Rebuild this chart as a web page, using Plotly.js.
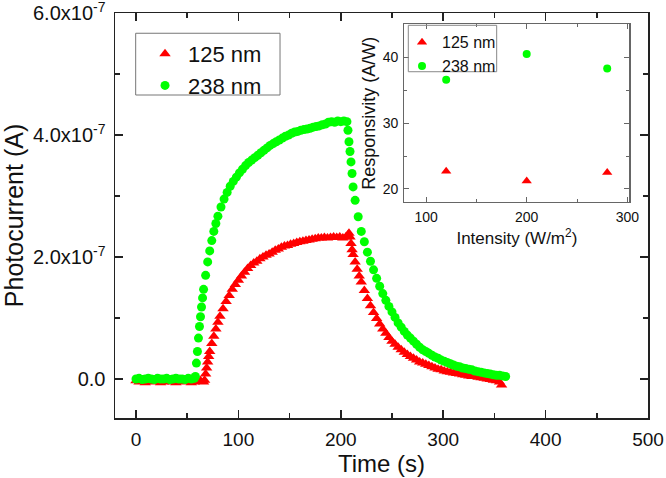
<!DOCTYPE html>
<html><head><meta charset="utf-8">
<script src="https://cdn.plot.ly/plotly-3.0.1.min.js"></script>
<style>html,body{margin:0;padding:0;background:#fff}#chart{width:666px;height:478px}</style>
</head><body><div id="chart"></div>
<script>
// Main chart: time (s) and photocurrent (units of 1e-7 A)
const redTime = [0,3,6,9,12,15,18,21,24,27,30,33,36,39,42,45,48,51,54,57,60,63,66,
  67,68,69,70,71,72,74,76,78,80,82,
  85,88,91,94,97,100,103,106,109,112,115,118,121,124,127,130,133,136,139,142,145,148,151,154,157,160,163,166,169,172,175,178,181,184,187,190,193,196,199,202,205,
  207,208,209,210,211,212,214,216,218,220,
  223,226,229,232,235,238,241,244,247,250,253,256,259,262,265,268,271,274,277,280,283,286,289,292,295,298,301,304,307,310,313,316,319,322,325,328,331,334,337,340,343,346,349,352,355,
  357];
const redCurrent = [-0.03,-0.05,-0.04,-0.06,-0.04,-0.03,-0.05,-0.04,-0.06,-0.05,-0.03,-0.04,-0.05,-0.06,-0.04,-0.03,-0.05,-0.04,-0.06,-0.05,-0.04,-0.03,-0.05,
  -0.02,0.08,0.18,0.28,0.37,0.45,0.58,0.70,0.82,0.93,1.03,
  1.15,1.27,1.37,1.47,1.55,1.62,1.69,1.75,1.81,1.86,1.90,1.93,1.97,2.00,2.03,2.05,2.08,2.11,2.13,2.16,2.18,2.19,2.21,2.22,2.24,2.25,2.26,2.27,2.28,2.29,2.30,2.31,2.31,2.32,2.31,2.32,2.33,2.32,2.33,2.31,2.33,
  2.36,2.39,2.33,2.22,2.12,2.04,1.92,1.80,1.69,1.59,
  1.45,1.32,1.20,1.09,0.99,0.90,0.82,0.75,0.68,0.62,0.57,0.52,0.48,0.44,0.40,0.37,0.34,0.31,0.28,0.26,0.24,0.22,0.20,0.18,0.16,0.15,0.13,0.12,0.11,0.10,0.09,0.08,0.07,0.06,0.05,0.04,0.04,0.03,0.02,0.01,0.00,-0.01,-0.02,-0.03,-0.05,
  -0.10];

const greenTime = [0,3,6,9,12,15,18,21,24,27,30,33,36,39,42,45,48,51,54,57,
  58,59,60,61,62,63,64,65,66,68,70,72,74,76,78,80,
  83,86,89,92,95,98,101,104,107,110,113,116,119,122,125,128,131,134,137,140,143,146,149,152,155,158,161,164,167,170,173,176,179,182,185,188,191,194,197,200,203,206,
  207,208,209,210,211,212,214,
  217,220,223,226,229,232,235,238,241,244,247,250,253,256,259,262,265,268,271,274,277,280,283,286,289,292,295,298,301,304,307,310,313,316,319,322,325,328,331,334,337,340,343,346,349,352,355,358,361];
const greenCurrent = [0.00,0.01,-0.01,0.00,0.01,0.00,-0.01,0.01,0.00,0.00,0.01,-0.01,0.00,0.01,0.00,0.00,-0.01,0.01,0.00,0.01,
  0.04,0.26,0.45,0.67,0.86,1.02,1.18,1.33,1.47,1.70,1.92,2.10,2.27,2.42,2.55,2.67,
  2.82,2.95,3.06,3.16,3.24,3.31,3.38,3.44,3.50,3.55,3.59,3.63,3.67,3.71,3.75,3.79,3.83,3.86,3.89,3.92,3.95,3.98,4.00,4.03,4.05,4.06,4.08,4.09,4.10,4.11,4.13,4.14,4.15,4.17,4.18,4.21,4.22,4.21,4.23,4.22,4.23,4.22,
  4.08,3.89,3.73,3.56,3.37,3.15,2.93,
  2.66,2.42,2.25,2.08,1.93,1.79,1.65,1.52,1.40,1.29,1.19,1.10,1.01,0.92,0.85,0.78,0.72,0.67,0.62,0.57,0.52,0.48,0.45,0.42,0.39,0.36,0.34,0.31,0.29,0.27,0.25,0.23,0.21,0.20,0.18,0.17,0.16,0.15,0.13,0.12,0.11,0.10,0.09,0.08,0.07,0.06,0.06,0.05,0.04];

// Inset: responsivity vs intensity
const intensity = [120, 200, 280];
const resp125 = [22.7, 21.2, 22.5];
const resp238 = [36.6, 40.5, 38.3];

const seriesNames = ['125 nm', '238 nm'];
const mainYTicks = [0, 2e-7, 4e-7, 6e-7];
const mainYTickText = ['0.0', '2.0x10<sup>-7</sup>', '4.0x10<sup>-7</sup>', '6.0x10<sup>-7</sup>'];
const mainXTicks = [0, 100, 200, 300, 400, 500];
const insetXTicks = [100, 200, 300];
const insetYTicks = [20, 30, 40];

const SCALE = 1e-7;
const RED = '#ff0000', GREEN = '#00ff00';
const FONT = 'Liberation Sans, Arial, sans-serif';

const traces = [
  {x: redTime, y: redCurrent.map(v => v * SCALE), type: 'scatter', mode: 'markers', name: seriesNames[0],
   marker: {symbol: 'triangle-up', size: 10, color: RED}, legend: 'legend', xaxis: 'x', yaxis: 'y'},
  {x: greenTime, y: greenCurrent.map(v => v * SCALE), type: 'scatter', mode: 'markers', name: seriesNames[1],
   marker: {symbol: 'circle', size: 9, color: GREEN}, legend: 'legend', xaxis: 'x', yaxis: 'y'},
  {x: intensity, y: resp125, type: 'scatter', mode: 'markers', name: seriesNames[0],
   marker: {symbol: 'triangle-up', size: 9, color: RED}, legend: 'legend2', xaxis: 'x2', yaxis: 'y2'},
  {x: intensity, y: resp238, type: 'scatter', mode: 'markers', name: seriesNames[1],
   marker: {symbol: 'circle', size: 8, color: GREEN}, legend: 'legend2', xaxis: 'x2', yaxis: 'y2'}
];

const axisCommon = {showgrid: false, zeroline: false, showline: true, linecolor: '#222', linewidth: 1.5,
  mirror: 'ticks', ticks: 'inside', tickcolor: '#222', tickwidth: 1.5, automargin: false,
  ticklabeloverflow: 'allow'};

const layout = {
  width: 666, height: 478,
  margin: {l: 115, r: 18, t: 13, b: 60},
  paper_bgcolor: '#fff', plot_bgcolor: '#fff',
  font: {family: FONT, color: '#111'},
  showlegend: true,
  xaxis: Object.assign({}, axisCommon, {
    domain: [0, 1], anchor: 'y', range: [-20.5, 500.01], tickmode: 'array', tickvals: mainXTicks,
    ticklen: 8, tickfont: {size: 19, family: FONT}, ticklabelstandoff: 4,
    minor: {tickmode: 'linear', tick0: 0, dtick: 50, ticks: 'inside', ticklen: 5, tickcolor: '#222', tickwidth: 1.5},
    title: {text: 'Time (s)', font: {size: 24, family: FONT}, standoff: 5}
  }),
  yaxis: Object.assign({}, axisCommon, {
    domain: [0, 1], anchor: 'x', range: [-0.64e-7, 6.002e-7], tickmode: 'array', tickvals: mainYTicks, ticktext: mainYTickText,
    ticklen: 8, tickfont: {size: 20, family: FONT}, ticklabelstandoff: 4,
    minor: {tickmode: 'linear', tick0: 0, dtick: 1e-7, ticks: 'inside', ticklen: 5, tickcolor: '#222', tickwidth: 1.5},
    title: {text: 'Photocurrent (A)', font: {size: 25, family: FONT}, standoff: 6}
  }),
  xaxis2: Object.assign({}, axisCommon, {
    domain: [0.543, 0.965], anchor: 'y2', range: [78.5, 302], tickmode: 'array', tickvals: insetXTicks,
    linecolor: '#666', linewidth: 1.2, tickcolor: '#666', tickwidth: 1, ticklen: 5,
    tickfont: {size: 14, family: FONT}, ticklabelstandoff: 2,
    minor: {tickmode: 'linear', tick0: 0, dtick: 50, ticks: 'inside', ticklen: 3, tickcolor: '#666', tickwidth: 1},
    title: {text: 'Intensity (W/m<sup>2</sup>)', font: {size: 17, family: FONT}, standoff: 8}
  }),
  yaxis2: Object.assign({}, axisCommon, {
    domain: [0.533, 0.972], anchor: 'x2', range: [18, 45], tickmode: 'array', tickvals: insetYTicks,
    linecolor: '#666', linewidth: 1.2, tickcolor: '#666', tickwidth: 1, ticklen: 5,
    tickfont: {size: 14, family: FONT}, ticklabelstandoff: 2,
    minor: {tickmode: 'linear', tick0: 0, dtick: 5, ticks: 'inside', ticklen: 3, tickcolor: '#666', tickwidth: 1},
    title: {text: 'Responsivity (A/W)', font: {size: 18, family: FONT}, standoff: 2}
  }),
  legend: {x: 0.0507, y: 0.9506, xanchor: 'left', yanchor: 'top', bgcolor: 'rgba(0,0,0,0)', borderwidth: 0,
    font: {size: 22, family: FONT}, itemwidth: 36, tracegroupgap: 0},
  legend2: {x: 0.5385, y: 0.9696, xanchor: 'left', yanchor: 'top', bgcolor: 'rgba(0,0,0,0)', borderwidth: 0,
    font: {size: 16, family: FONT}, itemwidth: 30, tracegroupgap: 0},
  shapes: [
    {type: 'rect', xref: 'paper', yref: 'paper', x0: 0.0388, x1: 0.3096, y0: 0.7975, y1: 0.950,
     line: {color: '#777', width: 1}, fillcolor: 'rgba(0,0,0,0)'},
    {type: 'rect', xref: 'paper', yref: 'paper', x0: 0.5503, x1: 0.7161, y0: 0.855, y1: 0.9696,
     line: {color: '#888', width: 1}, fillcolor: 'rgba(0,0,0,0)'}
  ]
};

Plotly.newPlot('chart', traces, layout, {displayModeBar: false, staticPlot: true});
</script>
</body></html>
